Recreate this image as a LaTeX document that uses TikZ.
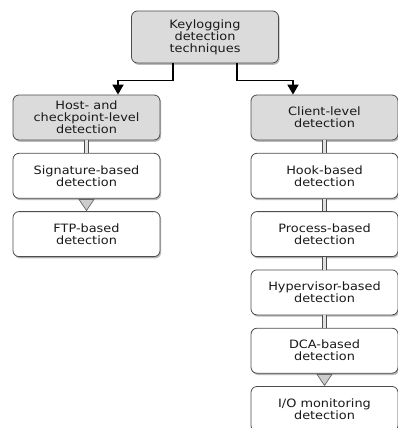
\documentclass[tikz,border=0pt]{standalone}
\usepackage{fontspec}
\setmainfont{DejaVu Sans}[FakeStretch=1.12]
\usetikzlibrary{arrows.meta,positioning,shadows}

\begin{document}
\begin{tikzpicture}[
  x=1pt, y=1pt,
  font=\fontsize{11.5}{12}\selectfont,
  box/.style={draw=black!70, rounded corners=6pt, line width=.8pt, fill=white,
              minimum width=147pt, minimum height=45pt, align=center, text=black!90,
              drop shadow={shadow xshift=1.2pt, shadow yshift=-1.8pt,
                           fill=black!45, opacity=.6}},
  head/.style={box, fill=black!14},
  ar/.style={-{Triangle[length=10pt,width=11pt]}, line width=1.8pt},
  link/.style={draw=black!70, double=black!12, double distance=2.6pt, line width=.8pt},
  isa/.style={-{Triangle[length=12pt,width=16pt,fill=black!20]}, draw=black!60,
              line width=.7pt},
  node distance=12.5pt,
]
\useasboundingbox (0,0) rectangle (398,-428);

\node[head, minimum height=52pt] (top) at (205,-37) {Keylogging\\detection\\techniques};

% host side
\node[head] (host) at (86.5,-117.5) {Host- and\\checkpoint-level\\detection};
\node[box, below=of host] (sig) {Signature-based\\detection};
\node[box, below=of sig] (ftp) {FTP-based\\detection};

% client side
\node[head] (cli) at (324.5,-117.5) {Client-level\\detection};
\node[box, below=of cli] (hook) {Hook-based\\detection};
\node[box, below=of hook] (proc) {Process-based\\detection};
\node[box, below=of proc] (hyp) {Hypervisor-based\\detection};
\node[box, below=of hyp] (dca) {DCA-based\\detection};
\node[box, below=of dca] (io) {I/O monitoring\\detection};

\draw[ar] ([xshift=-32pt]top.south) -- ++(0,-17) -| ([xshift=31.5pt]host.north);
\draw[ar] ([xshift=32pt]top.south) -- ++(0,-17) -| ([xshift=-31.5pt]cli.north);

\draw[link] (host) -- (sig);
\draw[isa] (sig) -- (ftp);
\draw[link] (cli) -- (hook);
\draw[link] (hook) -- (proc);
\draw[link] (proc) -- (hyp);
\draw[link] (hyp) -- (dca);
\draw[isa] (dca) -- (io);
\end{tikzpicture}
\end{document}
